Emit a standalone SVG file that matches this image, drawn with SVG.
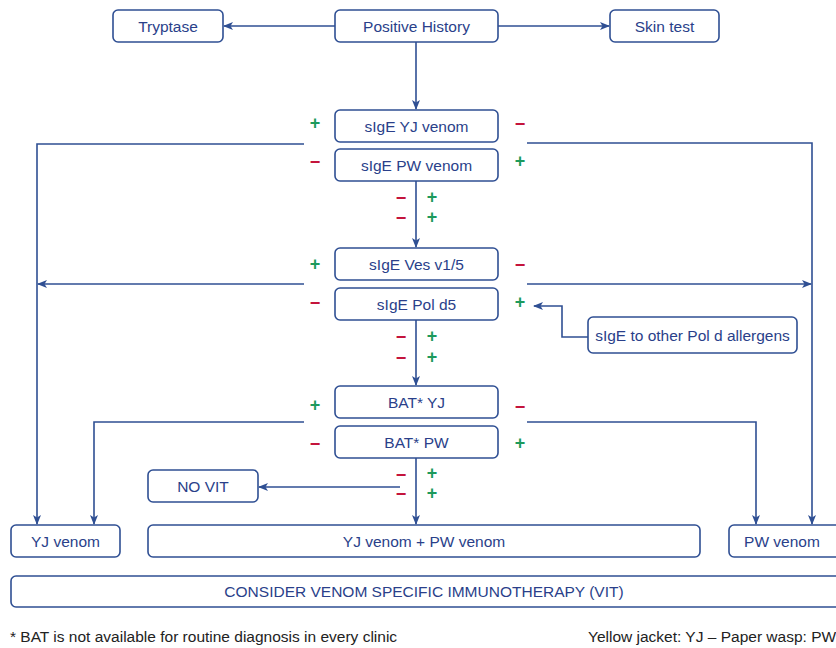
<svg xmlns="http://www.w3.org/2000/svg" width="836" height="648" viewBox="0 0 836 648">
<style>
.box{fill:#fff;stroke:#2f4f93;stroke-width:1.6}
.lbl{font-family:"Liberation Sans",Arial,sans-serif;font-size:15.5px;fill:#2a3f8a;text-anchor:middle}
.ln{fill:none;stroke:#2f4f93;stroke-width:1.6}
.ar{marker-end:url(#ah)}
.p{font-family:"Liberation Sans",Arial,sans-serif;font-size:18px;font-weight:bold;fill:#1d9a5c;text-anchor:middle}
.m{font-family:"Liberation Sans",Arial,sans-serif;font-size:18px;font-weight:bold;fill:#c4143c;text-anchor:middle}
.ft{font-family:"Liberation Sans",Arial,sans-serif;font-size:15.5px;fill:#222}
</style>
<defs>
<marker id="ah" markerWidth="10" markerHeight="8" refX="9" refY="4" orient="auto" markerUnits="userSpaceOnUse">
<path d="M0,0 L10,4 L0,8 L2.5,4 Z" fill="#2f4f93"/>
</marker>
</defs>
<rect width="836" height="648" fill="#fff"/>
<g id="connectors">
<line class="ln ar" x1="335" y1="26" x2="224" y2="26"/>
<line class="ln ar" x1="498" y1="26" x2="609" y2="26"/>
<line class="ln ar" x1="416" y1="42" x2="416" y2="109"/>
<polyline class="ln ar" points="304,144 37,144 37,524"/>
<polyline class="ln ar" points="527,143 812,143 812,524"/>
<line class="ln ar" x1="416" y1="181" x2="416" y2="247"/>
<line class="ln ar" x1="304" y1="284" x2="38" y2="284"/>
<line class="ln ar" x1="527" y1="284" x2="811" y2="284"/>
<polyline class="ln ar" points="588,337 562,337 562,306 534,306"/>
<line class="ln ar" x1="416" y1="320" x2="416" y2="385"/>
<polyline class="ln ar" points="304,422 94,422 94,524"/>
<polyline class="ln ar" points="527,422 756,422 756,524"/>
<line class="ln ar" x1="416" y1="458" x2="416" y2="524"/>
<line class="ln ar" x1="400" y1="487" x2="259" y2="487"/>
</g>
<g id="tryptase"><rect class="box" x="113" y="10" width="110" height="32" rx="5"/><text class="lbl" x="168" y="32">Tryptase</text></g>
<g id="positive-history"><rect class="box" x="335" y="10" width="163" height="32" rx="5"/><text class="lbl" x="416.5" y="32">Positive History</text></g>
<g id="skin-test"><rect class="box" x="610" y="10" width="109" height="32" rx="5"/><text class="lbl" x="664.5" y="32">Skin test</text></g>
<g id="sige-yj"><rect class="box" x="335" y="110" width="163" height="32" rx="5"/><text class="lbl" x="416.5" y="132">sIgE YJ venom</text></g>
<g id="sige-pw"><rect class="box" x="335" y="149" width="163" height="32" rx="5"/><text class="lbl" x="416.5" y="171">sIgE PW venom</text></g>
<g id="sige-ves"><rect class="box" x="335" y="248" width="163" height="32" rx="5"/><text class="lbl" x="416.5" y="270">sIgE Ves v1/5</text></g>
<g id="sige-pol"><rect class="box" x="335" y="288" width="163" height="32" rx="5"/><text class="lbl" x="416.5" y="310">sIgE Pol d5</text></g>
<g id="sige-other"><rect class="box" x="588" y="317" width="209" height="36" rx="5"/><text class="lbl" x="692.5" y="341">sIgE to other Pol d allergens</text></g>
<g id="bat-yj"><rect class="box" x="335" y="386" width="163" height="32" rx="5"/><text class="lbl" x="416.5" y="408">BAT* YJ</text></g>
<g id="bat-pw"><rect class="box" x="335" y="426" width="163" height="32" rx="5"/><text class="lbl" x="416.5" y="448">BAT* PW</text></g>
<g id="no-vit"><rect class="box" x="148" y="470" width="110" height="32" rx="5"/><text class="lbl" x="203" y="492">NO VIT</text></g>
<g id="yj-venom"><rect class="box" x="11" y="525" width="109" height="32" rx="5"/><text class="lbl" x="65.5" y="547">YJ venom</text></g>
<g id="yj-pw-venom"><rect class="box" x="148" y="525" width="552" height="32" rx="5"/><text class="lbl" x="424" y="547">YJ venom + PW venom</text></g>
<g id="pw-venom"><rect class="box" x="729" y="525" width="112" height="32" rx="5"/><text class="lbl" x="782" y="547">PW venom</text></g>
<g id="consider"><rect class="box" x="11" y="576" width="830" height="31" rx="5"/><text class="lbl" x="424" y="597">CONSIDER VENOM SPECIFIC IMMUNOTHERAPY (VIT)</text></g>
<g id="signs">
<text class="p" x="315" y="129">+</text><text class="m" x="520" y="130">−</text>
<text class="m" x="315" y="168">−</text><text class="p" x="520" y="167">+</text>
<text class="m" x="401" y="204">−</text><text class="p" x="432" y="203">+</text>
<text class="m" x="401" y="224">−</text><text class="p" x="432" y="223">+</text>
<text class="p" x="315" y="270">+</text><text class="m" x="520" y="271">−</text>
<text class="m" x="315" y="309">−</text><text class="p" x="520" y="308">+</text>
<text class="m" x="401" y="343">−</text><text class="p" x="432" y="342">+</text>
<text class="m" x="401" y="364">−</text><text class="p" x="432" y="363">+</text>
<text class="p" x="315" y="411">+</text><text class="m" x="520" y="413">−</text>
<text class="m" x="315" y="450">−</text><text class="p" x="520" y="449">+</text>
<text class="m" x="401" y="481">−</text><text class="p" x="432" y="479">+</text>
<text class="m" x="401" y="500">−</text><text class="p" x="432" y="499">+</text>
</g>
<g id="footnotes">
<text class="ft" x="10" y="642">* BAT is not available for routine diagnosis in every clinic</text>
<text class="ft" x="588" y="642">Yellow jacket: YJ – Paper wasp: PW</text>
</g>
</svg>
